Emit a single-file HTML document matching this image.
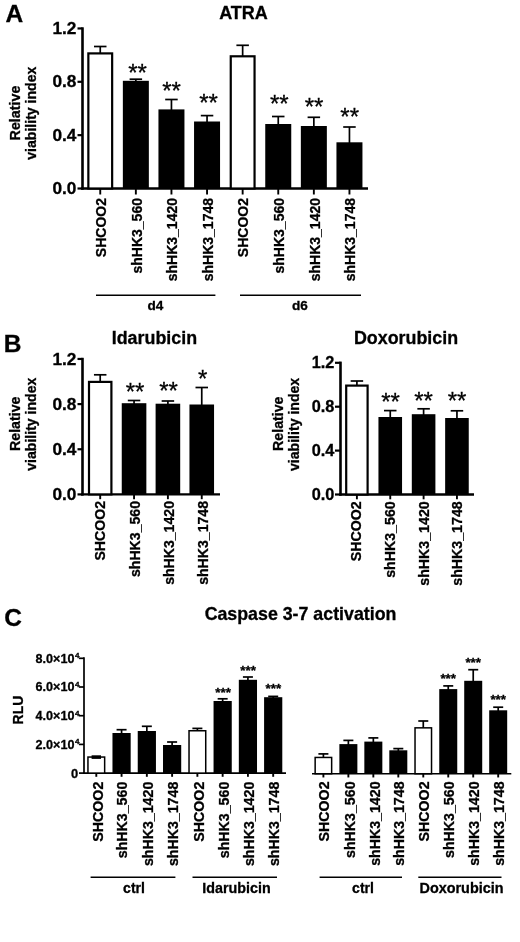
<!DOCTYPE html>
<html lang="en"><head><meta charset="utf-8"><title>Figure</title>
<style>
html,body{margin:0;padding:0;background:#fff;}
body{width:520px;height:942px;overflow:hidden;}
svg{display:block;filter:blur(0.4px);}
svg text{font-family:"Liberation Sans", Arial, sans-serif;fill:#000;stroke:#000;stroke-width:0.3px;}
</style></head><body>
<svg width="520" height="942" viewBox="0 0 520 942">
<rect width="520" height="942" fill="#fff"/>
<text x="5.5" y="22.3" font-size="24.5" font-weight="bold" text-anchor="start">A</text>
<text x="243.5" y="19.3" font-size="18" font-weight="bold" text-anchor="middle">ATRA</text>
<line x1="82.5" y1="27.3" x2="82.5" y2="189.7" stroke="#000" stroke-width="2.6"/>
<line x1="81.2" y1="188.5" x2="368" y2="188.5" stroke="#000" stroke-width="2.4"/>
<line x1="77.5" y1="188.5" x2="82.5" y2="188.5" stroke="#000" stroke-width="2.2"/>
<text transform="translate(76.4 194.1) scale(1.06 1)" font-size="16.3" font-weight="bold" text-anchor="end">0.0</text>
<line x1="77.5" y1="135.15" x2="82.5" y2="135.15" stroke="#000" stroke-width="2.2"/>
<text transform="translate(76.4 140.75) scale(1.06 1)" font-size="16.3" font-weight="bold" text-anchor="end">0.4</text>
<line x1="77.5" y1="81.8" x2="82.5" y2="81.8" stroke="#000" stroke-width="2.2"/>
<text transform="translate(76.4 87.4) scale(1.06 1)" font-size="16.3" font-weight="bold" text-anchor="end">0.8</text>
<line x1="77.5" y1="28.44999999999999" x2="82.5" y2="28.44999999999999" stroke="#000" stroke-width="2.2"/>
<text transform="translate(76.4 34.05) scale(1.06 1)" font-size="16.3" font-weight="bold" text-anchor="end">1.2</text>
<text x="19.6" y="113" font-size="14.3" font-weight="bold" text-anchor="middle" transform="rotate(-90 19.6 113)">Relative</text>
<text x="36.3" y="113.2" font-size="14.1" font-weight="bold" text-anchor="middle" transform="rotate(-90 36.3 113.2)">viability index</text>
<line x1="100.25" y1="46.5" x2="100.25" y2="53.3" stroke="#000" stroke-width="1.7"/>
<line x1="94.0" y1="46.5" x2="106.5" y2="46.5" stroke="#000" stroke-width="1.7"/>
<rect x="88.35" y="53.40" width="23.80" height="135.10" fill="#fff" stroke="#000" stroke-width="2.2"/>
<line x1="135.85" y1="79.2" x2="135.85" y2="81.8" stroke="#000" stroke-width="1.7"/>
<line x1="129.6" y1="79.2" x2="142.1" y2="79.2" stroke="#000" stroke-width="1.7"/>
<rect x="122.85" y="80.80" width="26.00" height="107.70" fill="#000"/>
<line x1="171.45" y1="99.5" x2="171.45" y2="110.4" stroke="#000" stroke-width="1.7"/>
<line x1="165.2" y1="99.5" x2="177.7" y2="99.5" stroke="#000" stroke-width="1.7"/>
<rect x="158.45" y="109.40" width="26.00" height="79.10" fill="#000"/>
<line x1="207.05" y1="115.6" x2="207.05" y2="122.5" stroke="#000" stroke-width="1.7"/>
<line x1="200.8" y1="115.6" x2="213.3" y2="115.6" stroke="#000" stroke-width="1.7"/>
<rect x="194.05" y="121.50" width="26.00" height="67.00" fill="#000"/>
<line x1="242.65" y1="45.3" x2="242.65" y2="56.2" stroke="#000" stroke-width="1.7"/>
<line x1="236.4" y1="45.3" x2="248.9" y2="45.3" stroke="#000" stroke-width="1.7"/>
<rect x="230.75" y="56.30" width="23.80" height="132.20" fill="#fff" stroke="#000" stroke-width="2.2"/>
<line x1="278.25" y1="116.5" x2="278.25" y2="125" stroke="#000" stroke-width="1.7"/>
<line x1="272.0" y1="116.5" x2="284.5" y2="116.5" stroke="#000" stroke-width="1.7"/>
<rect x="265.25" y="124.00" width="26.00" height="64.50" fill="#000"/>
<line x1="313.85" y1="117.3" x2="313.85" y2="127" stroke="#000" stroke-width="1.7"/>
<line x1="307.6" y1="117.3" x2="320.1" y2="117.3" stroke="#000" stroke-width="1.7"/>
<rect x="300.85" y="126.00" width="26.00" height="62.50" fill="#000"/>
<line x1="349.45000000000005" y1="127" x2="349.45000000000005" y2="143.3" stroke="#000" stroke-width="1.7"/>
<line x1="343.20000000000005" y1="127" x2="355.70000000000005" y2="127" stroke="#000" stroke-width="1.7"/>
<rect x="336.45" y="142.30" width="26.00" height="46.20" fill="#000"/>
<line x1="100.25" y1="188.5" x2="100.25" y2="194.5" stroke="#000" stroke-width="1.9"/>
<text x="105.75" y="198.0" font-size="14" font-weight="bold" text-anchor="end" transform="rotate(-90 105.75 198.0)">SHCOO2</text>
<line x1="135.85" y1="188.5" x2="135.85" y2="194.5" stroke="#000" stroke-width="1.9"/>
<text x="141.65" y="198.0" font-size="14" font-weight="bold" text-anchor="end" transform="rotate(-90 141.65 198.0)">shHK3_560</text>
<line x1="171.45" y1="188.5" x2="171.45" y2="194.5" stroke="#000" stroke-width="1.9"/>
<text x="177.25" y="198.0" font-size="14" font-weight="bold" text-anchor="end" transform="rotate(-90 177.25 198.0)">shHK3_1420</text>
<line x1="207.05" y1="188.5" x2="207.05" y2="194.5" stroke="#000" stroke-width="1.9"/>
<text x="212.85" y="198.0" font-size="14" font-weight="bold" text-anchor="end" transform="rotate(-90 212.85 198.0)">shHK3_1748</text>
<line x1="242.65" y1="188.5" x2="242.65" y2="194.5" stroke="#000" stroke-width="1.9"/>
<text x="248.15" y="198.0" font-size="14" font-weight="bold" text-anchor="end" transform="rotate(-90 248.15 198.0)">SHCOO2</text>
<line x1="278.25" y1="188.5" x2="278.25" y2="194.5" stroke="#000" stroke-width="1.9"/>
<text x="284.05" y="198.0" font-size="14" font-weight="bold" text-anchor="end" transform="rotate(-90 284.05 198.0)">shHK3_560</text>
<line x1="313.85" y1="188.5" x2="313.85" y2="194.5" stroke="#000" stroke-width="1.9"/>
<text x="319.65" y="198.0" font-size="14" font-weight="bold" text-anchor="end" transform="rotate(-90 319.65 198.0)">shHK3_1420</text>
<line x1="349.45000000000005" y1="188.5" x2="349.45000000000005" y2="194.5" stroke="#000" stroke-width="1.9"/>
<text x="355.25" y="198.0" font-size="14" font-weight="bold" text-anchor="end" transform="rotate(-90 355.25 198.0)">shHK3_1748</text>
<text x="137.5" y="80.72" font-size="24" font-weight="normal" text-anchor="middle" stroke-width="0.7">**</text>
<text x="171.5" y="99.12" font-size="24" font-weight="normal" text-anchor="middle" stroke-width="0.7">**</text>
<text x="208.5" y="111.42" font-size="24" font-weight="normal" text-anchor="middle" stroke-width="0.7">**</text>
<text x="279.3" y="112.42" font-size="24" font-weight="normal" text-anchor="middle" stroke-width="0.7">**</text>
<text x="314" y="114.92" font-size="24" font-weight="normal" text-anchor="middle" stroke-width="0.7">**</text>
<text x="349.7" y="125.42" font-size="24" font-weight="normal" text-anchor="middle" stroke-width="0.7">**</text>
<line x1="96" y1="295.2" x2="215.4" y2="295.2" stroke="#000" stroke-width="1.5"/>
<line x1="240" y1="295.2" x2="361" y2="295.2" stroke="#000" stroke-width="1.5"/>
<text x="155.4" y="309.5" font-size="13.6" font-weight="bold" text-anchor="middle">d4</text>
<text x="300" y="309.5" font-size="13.6" font-weight="bold" text-anchor="middle">d6</text>
<text x="3.7" y="352" font-size="24.5" font-weight="bold" text-anchor="start">B</text>
<text x="154.4" y="343.9" font-size="17.85" font-weight="bold" text-anchor="middle">Idarubicin</text>
<line x1="82.5" y1="357.8" x2="82.5" y2="495.59999999999997" stroke="#000" stroke-width="2.6"/>
<line x1="81.2" y1="494.4" x2="220" y2="494.4" stroke="#000" stroke-width="2.4"/>
<line x1="77.5" y1="494.4" x2="82.5" y2="494.4" stroke="#000" stroke-width="2.2"/>
<text transform="translate(76.4 500.0) scale(1.06 1)" font-size="16.3" font-weight="bold" text-anchor="end">0.0</text>
<line x1="77.5" y1="449.25" x2="82.5" y2="449.25" stroke="#000" stroke-width="2.2"/>
<text transform="translate(76.4 454.85) scale(1.06 1)" font-size="16.3" font-weight="bold" text-anchor="end">0.4</text>
<line x1="77.5" y1="404.09999999999997" x2="82.5" y2="404.09999999999997" stroke="#000" stroke-width="2.2"/>
<text transform="translate(76.4 409.7) scale(1.06 1)" font-size="16.3" font-weight="bold" text-anchor="end">0.8</text>
<line x1="77.5" y1="358.95" x2="82.5" y2="358.95" stroke="#000" stroke-width="2.2"/>
<text transform="translate(76.4 364.55) scale(1.06 1)" font-size="16.3" font-weight="bold" text-anchor="end">1.2</text>
<text x="19.8" y="423.8" font-size="14.2" font-weight="bold" text-anchor="middle" transform="rotate(-90 19.8 423.8)">Relative</text>
<text x="36.2" y="424.2" font-size="14.1" font-weight="bold" text-anchor="middle" transform="rotate(-90 36.2 424.2)">viability index</text>
<line x1="100.2" y1="374.8" x2="100.2" y2="381.8" stroke="#000" stroke-width="1.7"/>
<line x1="93.95" y1="374.8" x2="106.45" y2="374.8" stroke="#000" stroke-width="1.7"/>
<rect x="89.00" y="381.90" width="22.40" height="112.50" fill="#fff" stroke="#000" stroke-width="2.2"/>
<line x1="134.05" y1="400.5" x2="134.05" y2="404.2" stroke="#000" stroke-width="1.7"/>
<line x1="127.80000000000001" y1="400.5" x2="140.3" y2="400.5" stroke="#000" stroke-width="1.7"/>
<rect x="121.75" y="403.20" width="24.60" height="91.20" fill="#000"/>
<line x1="167.9" y1="401" x2="167.9" y2="404.7" stroke="#000" stroke-width="1.7"/>
<line x1="161.65" y1="401" x2="174.15" y2="401" stroke="#000" stroke-width="1.7"/>
<rect x="155.60" y="403.70" width="24.60" height="90.70" fill="#000"/>
<line x1="201.75" y1="387.5" x2="201.75" y2="405.5" stroke="#000" stroke-width="1.7"/>
<line x1="195.5" y1="387.5" x2="208.0" y2="387.5" stroke="#000" stroke-width="1.7"/>
<rect x="189.45" y="404.50" width="24.60" height="89.90" fill="#000"/>
<line x1="100.2" y1="494.4" x2="100.2" y2="499.2" stroke="#000" stroke-width="1.9"/>
<text x="105.2" y="501.0" font-size="14.1" font-weight="bold" text-anchor="end" transform="rotate(-90 105.2 501.0)">SHCOO2</text>
<line x1="134.05" y1="494.4" x2="134.05" y2="499.2" stroke="#000" stroke-width="1.9"/>
<text x="140.35" y="501.0" font-size="14.1" font-weight="bold" text-anchor="end" transform="rotate(-90 140.35 501.0)">shHK3_560</text>
<line x1="167.9" y1="494.4" x2="167.9" y2="499.2" stroke="#000" stroke-width="1.9"/>
<text x="174.2" y="501.0" font-size="14.1" font-weight="bold" text-anchor="end" transform="rotate(-90 174.2 501.0)">shHK3_1420</text>
<line x1="201.75" y1="494.4" x2="201.75" y2="499.2" stroke="#000" stroke-width="1.9"/>
<text x="208.05" y="501.0" font-size="14.1" font-weight="bold" text-anchor="end" transform="rotate(-90 208.05 501.0)">shHK3_1748</text>
<text x="135" y="400.42" font-size="24" font-weight="normal" text-anchor="middle" stroke-width="0.7">**</text>
<text x="168.5" y="398.72" font-size="24" font-weight="normal" text-anchor="middle" stroke-width="0.7">**</text>
<text x="202.6" y="386.72" font-size="24" font-weight="normal" text-anchor="middle" stroke-width="0.7">*</text>
<text x="406" y="344.3" font-size="17.85" font-weight="bold" text-anchor="middle">Doxorubicin</text>
<line x1="340.5" y1="361.6" x2="340.5" y2="495.7" stroke="#000" stroke-width="2.6"/>
<line x1="339.2" y1="494.5" x2="474" y2="494.5" stroke="#000" stroke-width="2.4"/>
<line x1="335.0" y1="494.5" x2="340.5" y2="494.5" stroke="#000" stroke-width="2.2"/>
<text transform="translate(334.4 500.0) scale(1.04 1)" font-size="15.7" font-weight="bold" text-anchor="end">0.0</text>
<line x1="335.0" y1="450.6" x2="340.5" y2="450.6" stroke="#000" stroke-width="2.2"/>
<text transform="translate(334.4 456.1) scale(1.04 1)" font-size="15.7" font-weight="bold" text-anchor="end">0.4</text>
<line x1="335.0" y1="406.7" x2="340.5" y2="406.7" stroke="#000" stroke-width="2.2"/>
<text transform="translate(334.4 412.2) scale(1.04 1)" font-size="15.7" font-weight="bold" text-anchor="end">0.8</text>
<line x1="335.0" y1="362.8" x2="340.5" y2="362.8" stroke="#000" stroke-width="2.2"/>
<text transform="translate(334.4 368.3) scale(1.04 1)" font-size="15.7" font-weight="bold" text-anchor="end">1.2</text>
<text x="283.2" y="423.7" font-size="14.2" font-weight="bold" text-anchor="middle" transform="rotate(-90 283.2 423.7)">Relative</text>
<text x="299.5" y="424.4" font-size="14.1" font-weight="bold" text-anchor="middle" transform="rotate(-90 299.5 424.4)">viability index</text>
<line x1="356.9" y1="381" x2="356.9" y2="385.5" stroke="#000" stroke-width="1.7"/>
<line x1="350.65" y1="381" x2="363.15" y2="381" stroke="#000" stroke-width="1.7"/>
<rect x="346.20" y="385.60" width="21.40" height="108.90" fill="#fff" stroke="#000" stroke-width="2.2"/>
<line x1="390.25" y1="410.6" x2="390.25" y2="418" stroke="#000" stroke-width="1.7"/>
<line x1="384.0" y1="410.6" x2="396.5" y2="410.6" stroke="#000" stroke-width="1.7"/>
<rect x="378.45" y="417.00" width="23.60" height="77.50" fill="#000"/>
<line x1="423.59999999999997" y1="408.8" x2="423.59999999999997" y2="415.2" stroke="#000" stroke-width="1.7"/>
<line x1="417.34999999999997" y1="408.8" x2="429.84999999999997" y2="408.8" stroke="#000" stroke-width="1.7"/>
<rect x="411.80" y="414.20" width="23.60" height="80.30" fill="#000"/>
<line x1="456.95" y1="410.8" x2="456.95" y2="419" stroke="#000" stroke-width="1.7"/>
<line x1="450.7" y1="410.8" x2="463.2" y2="410.8" stroke="#000" stroke-width="1.7"/>
<rect x="445.15" y="418.00" width="23.60" height="76.50" fill="#000"/>
<line x1="356.9" y1="494.5" x2="356.9" y2="499.3" stroke="#000" stroke-width="1.9"/>
<text x="360.8" y="501.3" font-size="14.2" font-weight="bold" text-anchor="end" transform="rotate(-90 360.8 501.3)">SHCOO2</text>
<line x1="390.25" y1="494.5" x2="390.25" y2="499.3" stroke="#000" stroke-width="1.9"/>
<text x="395.45" y="501.3" font-size="14.2" font-weight="bold" text-anchor="end" transform="rotate(-90 395.45 501.3)">shHK3_560</text>
<line x1="423.59999999999997" y1="494.5" x2="423.59999999999997" y2="499.3" stroke="#000" stroke-width="1.9"/>
<text x="428.8" y="501.3" font-size="14.2" font-weight="bold" text-anchor="end" transform="rotate(-90 428.8 501.3)">shHK3_1420</text>
<line x1="456.95" y1="494.5" x2="456.95" y2="499.3" stroke="#000" stroke-width="1.9"/>
<text x="462.15" y="501.3" font-size="14.2" font-weight="bold" text-anchor="end" transform="rotate(-90 462.15 501.3)">shHK3_1748</text>
<text x="390.6" y="410.42" font-size="24" font-weight="normal" text-anchor="middle" stroke-width="0.7">**</text>
<text x="423.6" y="409.22" font-size="24" font-weight="normal" text-anchor="middle" stroke-width="0.7">**</text>
<text x="457" y="409.22" font-size="24" font-weight="normal" text-anchor="middle" stroke-width="0.7">**</text>
<text x="4.3" y="626" font-size="24.5" font-weight="bold" text-anchor="start">C</text>
<text x="300.5" y="620.2" font-size="17.8" font-weight="bold" text-anchor="middle">Caspase 3-7 activation</text>
<line x1="84" y1="657.2" x2="84" y2="773.9" stroke="#000" stroke-width="1.7"/>
<line x1="83.2" y1="773.1" x2="286" y2="773.1" stroke="#000" stroke-width="1.7"/>
<line x1="79" y1="773.1" x2="84" y2="773.1" stroke="#000" stroke-width="1.7"/>
<text x="78.2" y="777.5" font-size="12.9" font-weight="bold" text-anchor="end">0</text>
<line x1="79" y1="744.4" x2="84" y2="744.4" stroke="#000" stroke-width="1.7"/>
<text x="79.4" y="748.8" font-size="12.6" font-weight="bold" text-anchor="end">2.0×10<tspan font-size="8" dy="-4.6" dx="0.5">4</tspan></text>
<line x1="79" y1="715.7" x2="84" y2="715.7" stroke="#000" stroke-width="1.7"/>
<text x="79.4" y="720.1" font-size="12.6" font-weight="bold" text-anchor="end">4.0×10<tspan font-size="8" dy="-4.6" dx="0.5">4</tspan></text>
<line x1="79" y1="687.0" x2="84" y2="687.0" stroke="#000" stroke-width="1.7"/>
<text x="79.4" y="691.4" font-size="12.6" font-weight="bold" text-anchor="end">6.0×10<tspan font-size="8" dy="-4.6" dx="0.5">4</tspan></text>
<line x1="79" y1="658.3000000000001" x2="84" y2="658.3000000000001" stroke="#000" stroke-width="1.7"/>
<text x="79.4" y="662.7" font-size="12.6" font-weight="bold" text-anchor="end">8.0×10<tspan font-size="8" dy="-4.6" dx="0.5">4</tspan></text>
<text x="23.1" y="710" font-size="14" font-weight="bold" text-anchor="middle" transform="rotate(-90 23.1 710)">RLU</text>
<rect x="87.95" y="757.05" width="16.70" height="16.05" fill="#fff" stroke="#000" stroke-width="1.5"/>
<line x1="121.57" y1="729.7" x2="121.57" y2="734" stroke="#000" stroke-width="1.7"/>
<line x1="116.57" y1="729.7" x2="126.57" y2="729.7" stroke="#000" stroke-width="1.7"/>
<rect x="112.47" y="733.00" width="18.20" height="40.10" fill="#000"/>
<line x1="146.84" y1="726.3" x2="146.84" y2="732" stroke="#000" stroke-width="1.7"/>
<line x1="141.84" y1="726.3" x2="151.84" y2="726.3" stroke="#000" stroke-width="1.7"/>
<rect x="137.74" y="731.00" width="18.20" height="42.10" fill="#000"/>
<line x1="172.11" y1="742" x2="172.11" y2="746" stroke="#000" stroke-width="1.7"/>
<line x1="167.11" y1="742" x2="177.11" y2="742" stroke="#000" stroke-width="1.7"/>
<rect x="163.01" y="745.00" width="18.20" height="28.10" fill="#000"/>
<line x1="197.38" y1="728.4" x2="197.38" y2="731" stroke="#000" stroke-width="1.7"/>
<line x1="192.38" y1="728.4" x2="202.38" y2="728.4" stroke="#000" stroke-width="1.7"/>
<rect x="189.03" y="730.75" width="16.70" height="42.35" fill="#fff" stroke="#000" stroke-width="1.5"/>
<line x1="222.64999999999998" y1="698.8" x2="222.64999999999998" y2="702" stroke="#000" stroke-width="1.7"/>
<line x1="217.64999999999998" y1="698.8" x2="227.64999999999998" y2="698.8" stroke="#000" stroke-width="1.7"/>
<rect x="213.55" y="701.00" width="18.20" height="72.10" fill="#000"/>
<line x1="247.92000000000002" y1="677" x2="247.92000000000002" y2="680.8" stroke="#000" stroke-width="1.7"/>
<line x1="242.92000000000002" y1="677" x2="252.92000000000002" y2="677" stroke="#000" stroke-width="1.7"/>
<rect x="238.82" y="679.80" width="18.20" height="93.30" fill="#000"/>
<line x1="273.19" y1="696.4" x2="273.19" y2="698.2" stroke="#000" stroke-width="1.7"/>
<line x1="268.19" y1="696.4" x2="278.19" y2="696.4" stroke="#000" stroke-width="1.7"/>
<rect x="264.09" y="697.20" width="18.20" height="75.90" fill="#000"/>
<line x1="91.6" y1="757.1" x2="101.0" y2="757.1" stroke="#000" stroke-width="3.6"/>
<line x1="96.3" y1="773.1" x2="96.3" y2="776.8000000000001" stroke="#000" stroke-width="1.9"/>
<text x="102.7" y="781.7" font-size="14.2" font-weight="bold" text-anchor="end" transform="rotate(-90 102.7 781.7)">SHCOO2</text>
<line x1="121.57" y1="773.1" x2="121.57" y2="776.8000000000001" stroke="#000" stroke-width="1.9"/>
<text x="127.47" y="781.7" font-size="14.2" font-weight="bold" text-anchor="end" transform="rotate(-90 127.47 781.7)">shHK3_560</text>
<line x1="146.84" y1="773.1" x2="146.84" y2="776.8000000000001" stroke="#000" stroke-width="1.9"/>
<text x="152.74" y="781.7" font-size="14.2" font-weight="bold" text-anchor="end" transform="rotate(-90 152.74 781.7)">shHK3_1420</text>
<line x1="172.11" y1="773.1" x2="172.11" y2="776.8000000000001" stroke="#000" stroke-width="1.9"/>
<text x="178.01" y="781.7" font-size="14.2" font-weight="bold" text-anchor="end" transform="rotate(-90 178.01 781.7)">shHK3_1748</text>
<line x1="197.38" y1="773.1" x2="197.38" y2="776.8000000000001" stroke="#000" stroke-width="1.9"/>
<text x="203.78" y="781.7" font-size="14.2" font-weight="bold" text-anchor="end" transform="rotate(-90 203.78 781.7)">SHCOO2</text>
<line x1="222.64999999999998" y1="773.1" x2="222.64999999999998" y2="776.8000000000001" stroke="#000" stroke-width="1.9"/>
<text x="228.55" y="781.7" font-size="14.2" font-weight="bold" text-anchor="end" transform="rotate(-90 228.55 781.7)">shHK3_560</text>
<line x1="247.92000000000002" y1="773.1" x2="247.92000000000002" y2="776.8000000000001" stroke="#000" stroke-width="1.9"/>
<text x="253.82" y="781.7" font-size="14.2" font-weight="bold" text-anchor="end" transform="rotate(-90 253.82 781.7)">shHK3_1420</text>
<line x1="273.19" y1="773.1" x2="273.19" y2="776.8000000000001" stroke="#000" stroke-width="1.9"/>
<text x="279.09" y="781.7" font-size="14.2" font-weight="bold" text-anchor="end" transform="rotate(-90 279.09 781.7)">shHK3_1748</text>
<text x="223.1" y="697.12" font-size="13.4" font-weight="bold" text-anchor="middle" stroke-width="0.1">***</text>
<text x="248.1" y="675.22" font-size="13.4" font-weight="bold" text-anchor="middle" stroke-width="0.1">***</text>
<text x="273.3" y="692.92" font-size="13.4" font-weight="bold" text-anchor="middle" stroke-width="0.1">***</text>
<line x1="312" y1="773.75" x2="511.3" y2="773.75" stroke="#000" stroke-width="1.7"/>
<line x1="323.4" y1="753.9" x2="323.4" y2="757.7" stroke="#000" stroke-width="1.7"/>
<line x1="318.4" y1="753.9" x2="328.4" y2="753.9" stroke="#000" stroke-width="1.7"/>
<rect x="315.15" y="757.45" width="16.50" height="16.30" fill="#fff" stroke="#000" stroke-width="1.5"/>
<line x1="348.37" y1="740.4" x2="348.37" y2="745.1" stroke="#000" stroke-width="1.7"/>
<line x1="343.37" y1="740.4" x2="353.37" y2="740.4" stroke="#000" stroke-width="1.7"/>
<rect x="339.37" y="744.10" width="18.00" height="29.65" fill="#000"/>
<line x1="373.34" y1="737.9" x2="373.34" y2="742.6" stroke="#000" stroke-width="1.7"/>
<line x1="368.34" y1="737.9" x2="378.34" y2="737.9" stroke="#000" stroke-width="1.7"/>
<rect x="364.34" y="741.60" width="18.00" height="32.15" fill="#000"/>
<line x1="398.30999999999995" y1="748.6" x2="398.30999999999995" y2="751.3" stroke="#000" stroke-width="1.7"/>
<line x1="393.30999999999995" y1="748.6" x2="403.30999999999995" y2="748.6" stroke="#000" stroke-width="1.7"/>
<rect x="389.31" y="750.30" width="18.00" height="23.45" fill="#000"/>
<line x1="423.28" y1="721" x2="423.28" y2="728.1" stroke="#000" stroke-width="1.7"/>
<line x1="418.28" y1="721" x2="428.28" y2="721" stroke="#000" stroke-width="1.7"/>
<rect x="415.03" y="727.85" width="16.50" height="45.90" fill="#fff" stroke="#000" stroke-width="1.5"/>
<line x1="448.25" y1="685.9" x2="448.25" y2="690.1" stroke="#000" stroke-width="1.7"/>
<line x1="443.25" y1="685.9" x2="453.25" y2="685.9" stroke="#000" stroke-width="1.7"/>
<rect x="439.25" y="689.10" width="18.00" height="84.65" fill="#000"/>
<line x1="473.21999999999997" y1="669.7" x2="473.21999999999997" y2="681.8" stroke="#000" stroke-width="1.7"/>
<line x1="468.21999999999997" y1="669.7" x2="478.21999999999997" y2="669.7" stroke="#000" stroke-width="1.7"/>
<rect x="464.22" y="680.80" width="18.00" height="92.95" fill="#000"/>
<line x1="498.18999999999994" y1="707.2" x2="498.18999999999994" y2="711.3" stroke="#000" stroke-width="1.7"/>
<line x1="493.18999999999994" y1="707.2" x2="503.18999999999994" y2="707.2" stroke="#000" stroke-width="1.7"/>
<rect x="489.19" y="710.30" width="18.00" height="63.45" fill="#000"/>
<line x1="323.4" y1="773.75" x2="323.4" y2="777.45" stroke="#000" stroke-width="1.9"/>
<text x="328.9" y="781.45" font-size="14.2" font-weight="bold" text-anchor="end" transform="rotate(-90 328.9 781.45)">SHCOO2</text>
<line x1="348.37" y1="773.75" x2="348.37" y2="777.45" stroke="#000" stroke-width="1.9"/>
<text x="354.57" y="781.45" font-size="14.2" font-weight="bold" text-anchor="end" transform="rotate(-90 354.57 781.45)">shHK3_560</text>
<line x1="373.34" y1="773.75" x2="373.34" y2="777.45" stroke="#000" stroke-width="1.9"/>
<text x="379.54" y="781.45" font-size="14.2" font-weight="bold" text-anchor="end" transform="rotate(-90 379.54 781.45)">shHK3_1420</text>
<line x1="398.30999999999995" y1="773.75" x2="398.30999999999995" y2="777.45" stroke="#000" stroke-width="1.9"/>
<text x="404.51" y="781.45" font-size="14.2" font-weight="bold" text-anchor="end" transform="rotate(-90 404.51 781.45)">shHK3_1748</text>
<line x1="423.28" y1="773.75" x2="423.28" y2="777.45" stroke="#000" stroke-width="1.9"/>
<text x="428.78" y="781.45" font-size="14.2" font-weight="bold" text-anchor="end" transform="rotate(-90 428.78 781.45)">SHCOO2</text>
<line x1="448.25" y1="773.75" x2="448.25" y2="777.45" stroke="#000" stroke-width="1.9"/>
<text x="454.45" y="781.45" font-size="14.2" font-weight="bold" text-anchor="end" transform="rotate(-90 454.45 781.45)">shHK3_560</text>
<line x1="473.21999999999997" y1="773.75" x2="473.21999999999997" y2="777.45" stroke="#000" stroke-width="1.9"/>
<text x="479.42" y="781.45" font-size="14.2" font-weight="bold" text-anchor="end" transform="rotate(-90 479.42 781.45)">shHK3_1420</text>
<line x1="498.18999999999994" y1="773.75" x2="498.18999999999994" y2="777.45" stroke="#000" stroke-width="1.9"/>
<text x="504.39" y="781.45" font-size="14.2" font-weight="bold" text-anchor="end" transform="rotate(-90 504.39 781.45)">shHK3_1748</text>
<text x="448.2" y="682.72" font-size="13.4" font-weight="bold" text-anchor="middle" stroke-width="0.1">***</text>
<text x="473.2" y="666.92" font-size="13.4" font-weight="bold" text-anchor="middle" stroke-width="0.1">***</text>
<text x="498.2" y="704.42" font-size="13.4" font-weight="bold" text-anchor="middle" stroke-width="0.1">***</text>
<line x1="90.6" y1="877.2" x2="175.4" y2="877.2" stroke="#000" stroke-width="1.5"/>
<line x1="192.5" y1="877.2" x2="277" y2="877.2" stroke="#000" stroke-width="1.5"/>
<line x1="319.6" y1="877.2" x2="402" y2="877.2" stroke="#000" stroke-width="1.5"/>
<line x1="418.3" y1="877.2" x2="501.5" y2="877.2" stroke="#000" stroke-width="1.5"/>
<text x="134" y="892.6" font-size="14" font-weight="bold" text-anchor="middle">ctrl</text>
<text x="236.5" y="892.6" font-size="14.3" font-weight="bold" text-anchor="middle">Idarubicin</text>
<text x="363" y="892.6" font-size="14" font-weight="bold" text-anchor="middle">ctrl</text>
<text x="461.5" y="892.6" font-size="14.4" font-weight="bold" text-anchor="middle">Doxorubicin</text>
</svg>
</body></html>
